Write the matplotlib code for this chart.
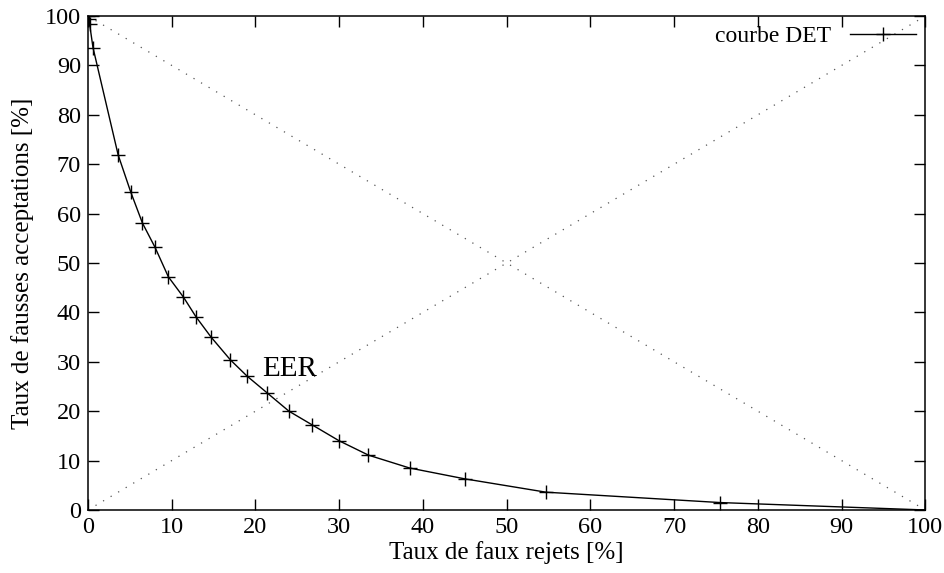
import matplotlib
matplotlib.use('Agg')
import matplotlib.pyplot as plt

# courbe DET
far_x = [0.0, 0.1, 0.2, 0.6, 3.6, 5.1, 6.5, 8.0, 9.6, 11.4, 12.9, 14.7, 17.0, 19.0,
         21.4, 24.0, 26.8, 30.0, 33.5, 38.4, 45.0, 54.7, 75.5, 100.0]
frr_y = [100.0, 99.4, 98.3, 93.6, 71.9, 64.4, 58.1, 53.2, 47.2, 43.1, 39.1, 35.0, 30.4, 27.1,
         23.7, 20.0, 17.2, 14.0, 11.1, 8.5, 6.3, 3.6, 1.5, 0.0]
diag = [0, 100]
ticks = [0, 10, 20, 30, 40, 50, 60, 70, 80, 90, 100]

plt.rcParams['font.family'] = ['Liberation Serif', 'DejaVu Serif']
plt.rcParams['font.size'] = 17.5

fig = plt.figure(figsize=(9.44, 5.73), dpi=100)
ax = fig.add_axes([0.0932, 0.110, 0.887, 0.862])

ax.plot(diag, diag, color='#555555', linestyle=(0, (1, 6)), linewidth=0.9)
ax.plot(diag, diag[::-1], color='#555555', linestyle=(0, (1, 6)), linewidth=0.9)
ax.plot(far_x, frr_y, color='black', linewidth=1.0, marker='+', markersize=10,
        markeredgewidth=1.0, label='courbe DET')

ax.text(20.8, 28.5, 'EER', fontsize=21, va='center', ha='left')

ax.set_xlim(0, 100)
ax.set_ylim(0, 100)
ax.set_xticks(ticks)
ax.set_yticks(ticks)
ax.tick_params(direction='in', length=8, width=1, top=True, right=True, pad=5,
               labelsize=17.5)
for s in ax.spines.values():
    s.set_linewidth(1.1)

ax.set_xlabel('Taux de faux rejets [%]', fontsize=18, labelpad=2)
ax.set_ylabel('Taux de fausses acceptations [%]', fontsize=18, labelpad=8)

ax.legend(loc='upper right', frameon=False, markerfirst=False, handlelength=2.8,
          handletextpad=0.8, borderaxespad=0.1, borderpad=0.3, fontsize=17)

plt.savefig('out.png', dpi=100)
